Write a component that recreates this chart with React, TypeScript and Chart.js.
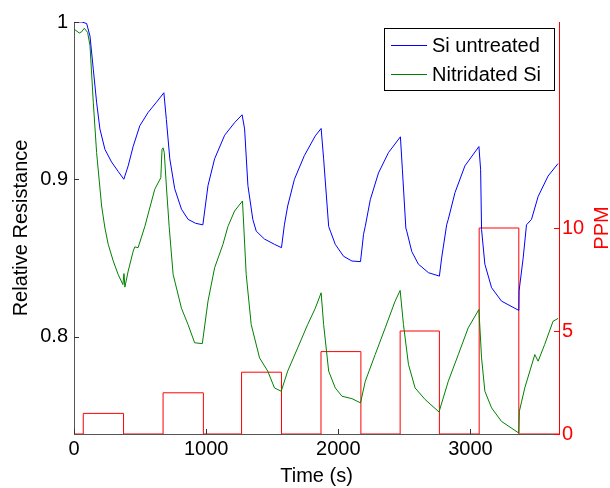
import React, { useEffect, useRef } from "react";
import { Chart, registerables } from "chart.js";

Chart.register(...registerables);

// ---- Data ----
const seriesLabels = ["Si untreated", "Nitridated Si"];

const timeUntreated = [
  0, 60, 96, 121, 146, 171, 196, 234, 284, 334, 377, 410, 448, 498, 561, 624, 680, 699, 725, 762, 813, 863, 920,
  975, 1014, 1064, 1140, 1215, 1272, 1291, 1316, 1353, 1379, 1441, 1517, 1570, 1592, 1617, 1668, 1743, 1826, 1870,
  1889, 1927, 1940, 1977, 2040, 2103, 2168, 2191, 2204, 2242, 2304, 2380, 2470, 2485, 2511, 2518, 2556, 2606, 2682,
  2765, 2782, 2820, 2832, 2883, 2958, 3064, 3077, 3084, 3109, 3160, 3235, 3366, 3368, 3399, 3424, 3462, 3512, 3587,
  3663,
];
const untreated = [
  1.0, 1.0, 0.999, 0.991, 0.97, 0.949, 0.932, 0.919, 0.911, 0.905, 0.9, 0.9085, 0.921, 0.934, 0.9425, 0.949, 0.955,
  0.938, 0.913, 0.894, 0.881, 0.8745, 0.872, 0.871, 0.896, 0.913, 0.928, 0.936, 0.941, 0.932, 0.896, 0.8745, 0.867,
  0.862, 0.8586, 0.8565, 0.871, 0.883, 0.9, 0.915, 0.9276, 0.9323, 0.913, 0.87, 0.867, 0.8586, 0.851, 0.848, 0.8476,
  0.865, 0.87, 0.887, 0.904, 0.917, 0.927, 0.906, 0.869, 0.867, 0.854, 0.846, 0.8406, 0.8384, 0.85, 0.871, 0.8745,
  0.8915, 0.9085, 0.9208, 0.906, 0.868, 0.846, 0.831, 0.8225, 0.8166, 0.829, 0.85, 0.871, 0.8745, 0.889, 0.902, 0.91,
];

const timeNitrided = [
  0, 40, 58, 78, 103, 121, 146, 171, 209, 234, 259, 297, 334, 370, 378, 385, 410, 448, 460, 485, 536, 611, 657, 666,
  674, 683, 699, 720, 750, 813, 863, 913, 971, 1014, 1064, 1127, 1165, 1215, 1275, 1303, 1341, 1404, 1466, 1517, 1568,
  1617, 1693, 1768, 1826, 1870, 1889, 1927, 1977, 2028, 2103, 2168, 2204, 2279, 2355, 2430, 2468, 2493, 2531, 2581,
  2657, 2762, 2832, 2908, 2983, 3064, 3084, 3109, 3160, 3235, 3366, 3370, 3411, 3487, 3512, 3562, 3625, 3663,
];
const nitrided = [
  0.9955, 0.993, 0.9938, 0.996, 0.9934, 0.985, 0.949, 0.917, 0.883, 0.869, 0.8586, 0.848, 0.8395, 0.833, 0.84, 0.8314,
  0.8416, 0.8543, 0.857, 0.8565, 0.87, 0.8936, 0.901, 0.919, 0.92, 0.917, 0.8957, 0.87, 0.8395, 0.818, 0.8076, 0.796,
  0.7955, 0.8225, 0.8437, 0.8586, 0.87, 0.8798, 0.8862, 0.8395, 0.8076, 0.7864, 0.778, 0.7673, 0.7652, 0.778, 0.7928,
  0.8076, 0.818, 0.8278, 0.8076, 0.778, 0.7673, 0.762, 0.7605, 0.7578, 0.7715, 0.7885, 0.8055, 0.8225, 0.8293, 0.8076,
  0.7822, 0.7673, 0.7599, 0.752, 0.7715, 0.7885, 0.8055, 0.8172, 0.7864, 0.7652, 0.7546, 0.746, 0.7386, 0.7524,
  0.7673, 0.7885, 0.7843, 0.795, 0.8097, 0.8115,
];

const pulseStart = [70, 674, 1268, 1869, 2468, 3066];
const pulseEnd = [375, 979, 1570, 2171, 2765, 3366];
const pulsePPM = [1, 2, 3, 4, 5, 10];

const xTicks = [0, 1000, 2000, 3000];
const leftTicks = [0.8, 0.9, 1];
const rightTicks = [0, 5, 10];

const X_MIN = 0;
const X_MAX = 3670;
const Y_MIN = 0.738;
const Y_MAX = 1.0;
const PPM_MAX = 20;

const FONT = "'Liberation Sans', Arial, Helvetica, sans-serif";

function buildPPM() {
  const pts: { x: number; y: number }[] = [{ x: X_MIN, y: 0 }];
  pulseStart.forEach((s, i) => {
    pts.push({ x: s, y: pulsePPM[i] });
    pts.push({ x: pulseEnd[i], y: 0 });
  });
  pts.push({ x: X_MAX, y: 0 });
  return pts;
}

const overlayPlugin = {
  id: "overlay",
  afterDraw(chart: any) {
    const { ctx, chartArea, scales } = chart;
    ctx.save();
    // inward tick marks
    ctx.lineWidth = 1;
    ctx.strokeStyle = "#333";
    xTicks.forEach((v) => {
      const px = Math.round(scales.x.getPixelForValue(v)) + 0.5;
      ctx.beginPath();
      ctx.moveTo(px, chartArea.bottom);
      ctx.lineTo(px, chartArea.bottom - 5);
      ctx.stroke();
    });
    leftTicks.forEach((v) => {
      const py = Math.round(scales.y.getPixelForValue(v)) + 0.5;
      ctx.beginPath();
      ctx.moveTo(chartArea.left, py);
      ctx.lineTo(chartArea.left + 5, py);
      ctx.stroke();
    });
    ctx.strokeStyle = "#ff0000";
    rightTicks.forEach((v) => {
      const py = Math.round(scales.y2.getPixelForValue(v)) + 0.5;
      ctx.beginPath();
      ctx.moveTo(chartArea.right, py);
      ctx.lineTo(chartArea.right - 5, py);
      ctx.stroke();
    });

    // PPM title (reads bottom-to-top)
    ctx.fillStyle = "#ff0000";
    ctx.font = `20px ${FONT}`;
    ctx.textAlign = "center";
    ctx.textBaseline = "middle";
    ctx.translate(602, (chartArea.top + chartArea.bottom) / 2);
    ctx.rotate(-Math.PI / 2);
    ctx.fillText("PPM", 0, 0);
    ctx.setTransform(1, 0, 0, 1, 0, 0);

    // legend box
    const bx = 384.5, by = 28.5, bw = 170, bh = 62;
    ctx.fillStyle = "#ffffff";
    ctx.fillRect(bx, by, bw, bh);
    ctx.strokeStyle = "#000";
    ctx.strokeRect(bx, by, bw, bh);
    ctx.font = `20px ${FONT}`;
    ctx.textAlign = "left";
    ctx.textBaseline = "middle";
    [0, 1].forEach((i) => {
      const ds = chart.data.datasets[i];
      const ry = i === 0 ? 45.5 : 74.5;
      ctx.strokeStyle = ds.borderColor;
      ctx.beginPath();
      ctx.moveTo(391, ry);
      ctx.lineTo(427, ry);
      ctx.stroke();
      ctx.fillStyle = "#000";
      ctx.fillText(ds.label, 432, ry + 1);
    });
    ctx.restore();
  },
};

export default function App() {
  const ref = useRef<HTMLCanvasElement | null>(null);

  useEffect(() => {
    if (!ref.current) return;
    const chart = new Chart(ref.current, {
      type: "line",
      data: {
        datasets: [
          {
            label: seriesLabels[0],
            data: timeUntreated.map((t, i) => ({ x: t, y: untreated[i] })),
            borderColor: "#0000ff",
            borderWidth: 1,
            pointRadius: 0,
            yAxisID: "y",
            tension: 0,
          },
          {
            label: seriesLabels[1],
            data: timeNitrided.map((t, i) => ({ x: t, y: nitrided[i] })),
            borderColor: "#008000",
            borderWidth: 1,
            pointRadius: 0,
            yAxisID: "y",
            tension: 0,
          },
          {
            label: "PPM",
            data: buildPPM(),
            borderColor: "#ff0000",
            borderWidth: 1,
            pointRadius: 0,
            stepped: true,
            yAxisID: "y2",
          },
        ],
      },
      options: {
        responsive: false,
        animation: false,
        events: [],
        layout: { padding: { top: 22, left: 0, right: 0, bottom: 0 } },
        plugins: { legend: { display: false }, tooltip: { enabled: false } },
        scales: {
          x: {
            type: "linear",
            position: "bottom",
            min: X_MIN,
            max: X_MAX,
            afterBuildTicks: (s: any) => {
              s.ticks = xTicks.map((v) => ({ value: v }));
            },
            afterFit: (s: any) => {
              s.height = 54;
            },
            grid: { display: false, drawTicks: false },
            border: { display: true, color: "#555", width: 1 },
            ticks: {
              color: "#000",
              font: { family: FONT, size: 20 },
              padding: 3,
              maxRotation: 0,
              autoSkip: false,
              callback: (v: any) => String(v),
            },
            title: {
              display: true,
              text: "Time (s)",
              color: "#000",
              font: { family: FONT, size: 20 },
              padding: { top: 0, bottom: 0 },
            },
          },
          y: {
            type: "linear",
            position: "left",
            min: Y_MIN,
            max: Y_MAX,
            afterBuildTicks: (s: any) => {
              s.ticks = leftTicks.map((v) => ({ value: v }));
            },
            afterFit: (s: any) => {
              s.width = 74;
            },
            grid: { display: false, drawTicks: false },
            border: { display: true, color: "#555", width: 1 },
            ticks: {
              color: "#000",
              font: { family: FONT, size: 20 },
              padding: 6,
              callback: (v: any) => String(v),
            },
            title: {
              display: true,
              text: "Relative Resistance",
              color: "#000",
              font: { family: FONT, size: 20 },
              padding: { top: 9, bottom: 0 },
            },
          },
          y2: {
            type: "linear",
            position: "right",
            min: 0,
            max: PPM_MAX,
            afterBuildTicks: (s: any) => {
              s.ticks = rightTicks.map((v) => ({ value: v }));
            },
            afterFit: (s: any) => {
              s.width = 51;
            },
            grid: { display: false, drawTicks: false },
            border: { display: true, color: "#ff0000", width: 1 },
            ticks: {
              color: "#ff0000",
              font: { family: FONT, size: 20 },
              padding: 3,
              callback: (v: any) => String(v),
            },
          },
        },
      },
      plugins: [overlayPlugin],
    } as any);
    return () => chart.destroy();
  }, []);

  return (
    <div style={{ position: "fixed", left: 0, top: 0, width: 610, height: 488, background: "#fff" }}>
      <canvas ref={ref} width={610} height={488} style={{ display: "block" }} />
    </div>
  );
}
